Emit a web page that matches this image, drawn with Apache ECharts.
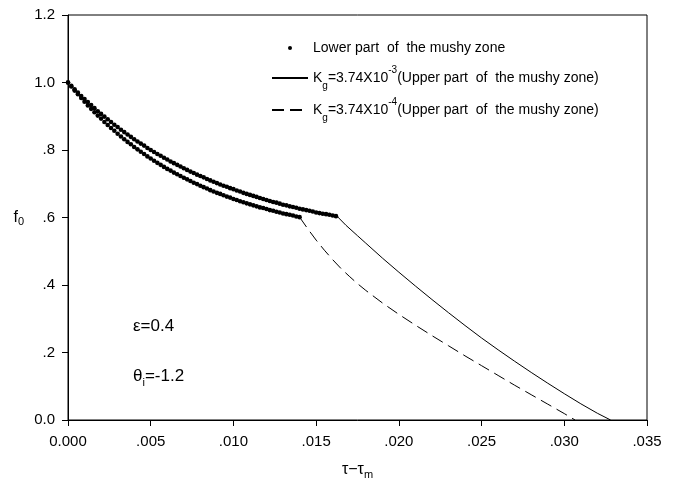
<!DOCTYPE html>
<html><head><meta charset="utf-8">
<script src="https://cdn.jsdelivr.net/npm/echarts@6/dist/echarts.min.js"></script>
<style>html,body{margin:0;padding:0;background:#fff}#c{width:675px;height:494px}</style>
</head><body><div id="c"></div>
<script>
// ---- data ----
const tauDots = [0,0.0002,0.0004,0.0006,0.0008,0.0010,0.0012,0.0014,0.0016,0.0018,
  0.0020,0.0022,0.0024,0.0026,0.0028,0.0030,0.0032,0.0034,0.0036,0.0038,
  0.0040,0.0042,0.0044,0.0046,0.0048,0.0050,0.0052,0.0054,0.0056,0.0058,
  0.0060,0.0062,0.0064,0.0066,0.0068,0.0070,0.0072,0.0074,0.0076,0.0078,
  0.0080,0.0082,0.0084,0.0086,0.0088,0.0090,0.0092,0.0094,0.0096,0.0098,
  0.0100,0.0102,0.0104,0.0106,0.0108,0.0110,0.0112,0.0114,0.0116,0.0118,
  0.0120,0.0122,0.0124,0.0126,0.0128,0.0130,0.0132,0.0134,0.0136,0.0138,
  0.0140,0.0142,0.0144,0.0146,0.0148,0.0150,0.0152,0.0154,0.0156,0.0158,
  0.0160,0.0162];
const fUpperDots = [1.000,0.990,0.980,0.970,0.960,0.951,0.942,0.933,0.924,0.915,
  0.907,0.899,0.891,0.883,0.875,0.868,0.860,0.853,0.846,0.839,
  0.832,0.825,0.819,0.813,0.806,0.800,0.794,0.788,0.783,0.777,
  0.772,0.766,0.761,0.756,0.751,0.746,0.741,0.736,0.732,0.727,
  0.723,0.719,0.714,0.710,0.706,0.702,0.698,0.694,0.691,0.687,
  0.684,0.680,0.677,0.673,0.670,0.667,0.664,0.661,0.658,0.655,
  0.652,0.649,0.646,0.644,0.641,0.638,0.636,0.633,0.631,0.629,
  0.626,0.624,0.622,0.620,0.618,0.615,0.613,0.611,0.610,0.608,
  0.606,0.604];
const fLowerDots = [1.000,0.988,0.976,0.965,0.954,0.943,0.932,0.922,0.912,0.902,
  0.893,0.883,0.874,0.865,0.857,0.848,0.840,0.832,0.824,0.817,
  0.809,0.802,0.795,0.788,0.781,0.775,0.768,0.762,0.756,0.750,
  0.744,0.739,0.733,0.728,0.723,0.718,0.713,0.708,0.703,0.699,
  0.694,0.690,0.686,0.681,0.677,0.673,0.670,0.666,0.662,0.659,
  0.655,0.652,0.648,0.645,0.642,0.639,0.636,0.633,0.630,0.628,
  0.625,0.622,0.620,0.617,0.615,0.612,0.610,0.608,0.606,0.603,
  0.601];
const tauSolid = [0.0163,0.0168,0.0175,0.0180,0.0190,0.0200,0.0210,0.0220,0.0230,0.0240,
  0.0250,0.0260,0.0270,0.0280,0.0290,0.0300,0.0310,0.0320,0.0328];
const fSolid = [0.602,0.577,0.546,0.524,0.480,0.438,0.397,0.357,0.318,0.280,
  0.243,0.208,0.174,0.141,0.109,0.078,0.048,0.020,0.000];
const tauDashed = [0.0140,0.0145,0.0150,0.0155,0.0160,0.0165,0.0170,0.0175,0.0180,0.0190,
  0.0200,0.0210,0.0220,0.0230,0.0240,0.0250,0.0260,0.0270,0.0280,0.0290,0.0300,0.03065];
const fDashed = [0.601,0.566,0.533,0.503,0.475,0.449,0.426,0.404,0.384,0.347,
  0.313,0.281,0.250,0.220,0.190,0.161,0.132,0.103,0.075,0.047,0.019,0.000];
const xTickLabels = ['0.000','.005','.010','.015','.020','.025','.030','.035'];
const yTickLabels = ['0.0','.2','.4','.6','.8','1.0','1.2'];
const nameDots = 'Lower part of the mushy zone';
const nameSolid = 'Kg=3.74X10-3';
const nameDashed = 'Kg=3.74X10-4';
const legendText = {};
legendText[nameDots] = 'Lower part  of  the mushy zone';
legendText[nameSolid] = 'K{sub|g}=3.74X10{sup|-3}(Upper part  of  the mushy zone)';
legendText[nameDashed] = 'K{sub|g}=3.74X10{sup|-4}(Upper part  of  the mushy zone)';

// ---- chart ----
const FONT = '"Liberation Sans", Arial, sans-serif';
const rich = {
  sub: {fontSize: 10, fontFamily: FONT, color: '#000', lineHeight: 16, verticalAlign: 'bottom'},
  sup: {fontSize: 10, fontFamily: FONT, color: '#000', lineHeight: 10, verticalAlign: 'top'}
};
function legendCfg(name, left, top, itemH) {
  return {
    data: [name], left: left, top: top, padding: 0, itemWidth: 36, itemHeight: itemH,
    selectedMode: false,
    itemStyle: name === nameDots ? undefined : {opacity: 0},
    formatter: n => legendText[n],
    textStyle: {fontSize: 14, fontFamily: FONT, color: '#000', lineHeight: 26, rich: rich}
  };
}
const chart = echarts.init(document.getElementById('c'), null, {renderer: 'canvas'});
chart.setOption({
  animation: false,
  backgroundColor: '#fff',
  grid: {left: 68, right: 28, top: 15, bottom: 74, show: true, borderColor: '#000', borderWidth: 1},
  legend: [legendCfg(nameDots, 288, 35, 4), legendCfg(nameSolid, 271, 65, 10), legendCfg(nameDashed, 271, 97, 10)],
  xAxis: {
    type: 'value', min: 0, max: 0.035, interval: 0.005,
    axisLine: {lineStyle: {color: '#000', width: 1}},
    axisTick: {length: 6, lineStyle: {color: '#000'}},
    splitLine: {show: false},
    axisLabel: {color: '#000', fontSize: 15, fontFamily: FONT, margin: 14,
      formatter: (v, i) => xTickLabels[i]},
    name: 'τ−τ{sub|m}', nameLocation: 'middle', nameGap: 40,
    nameTextStyle: {color: '#000', fontSize: 16, fontFamily: FONT, lineHeight: 20,
      rich: {sub: {fontSize: 11, fontFamily: FONT, color: '#000', lineHeight: 12, verticalAlign: 'bottom'}}}
  },
  yAxis: {
    type: 'value', min: 0, max: 1.2, interval: 0.2,
    axisLine: {show: true, lineStyle: {color: '#000', width: 1}},
    axisTick: {show: true, length: 6, lineStyle: {color: '#000'}},
    splitLine: {show: false},
    axisLabel: {color: '#000', fontSize: 15, fontFamily: FONT, margin: 13,
      formatter: (v, i) => yTickLabels[i]},
    name: 'f{sub|0}', nameLocation: 'middle', nameGap: 44, nameRotate: 0,
    nameTextStyle: {color: '#000', fontSize: 16, fontFamily: FONT, lineHeight: 20,
      rich: {sub: {fontSize: 11, fontFamily: FONT, color: '#000', lineHeight: 12, verticalAlign: 'bottom'}}}
  },
  series: [
    {name: nameDots, type: 'scatter', symbol: 'circle', symbolSize: 4.6,
      itemStyle: {color: '#000', opacity: 1}, data: tauDots.map((t, i) => [t, fUpperDots[i]])},
    {name: nameDots, type: 'scatter', symbol: 'circle', symbolSize: 4.6,
      itemStyle: {color: '#000', opacity: 1}, data: tauDots.slice(0, fLowerDots.length).map((t, i) => [t, fLowerDots[i]])},
    {name: nameSolid, type: 'line', symbol: 'none', lineStyle: {color: '#000', width: 1},
      itemStyle: {color: '#000'}, data: tauSolid.map((t, i) => [t, fSolid[i]])},
    {name: nameDashed, type: 'line', symbol: 'none', lineStyle: {color: '#000', width: 1, type: [12, 6]},
      itemStyle: {color: '#000'}, data: tauDashed.map((t, i) => [t, fDashed[i]])}
  ],
  graphic: [
    {type: 'text', left: 133, top: 318, style: {text: 'ε=0.4', fontSize: 17, fontFamily: FONT, fill: '#000'}},
    {type: 'text', left: 133, top: 364, style: {text: 'θ{sub|i}=-1.2', fontSize: 17, fontFamily: FONT, fill: '#000',
      lineHeight: 24,
      rich: {sub: {fontSize: 11, fontFamily: FONT, fill: '#000', lineHeight: 14, verticalAlign: 'bottom'}}}}
  ]
});
</script></body></html>
